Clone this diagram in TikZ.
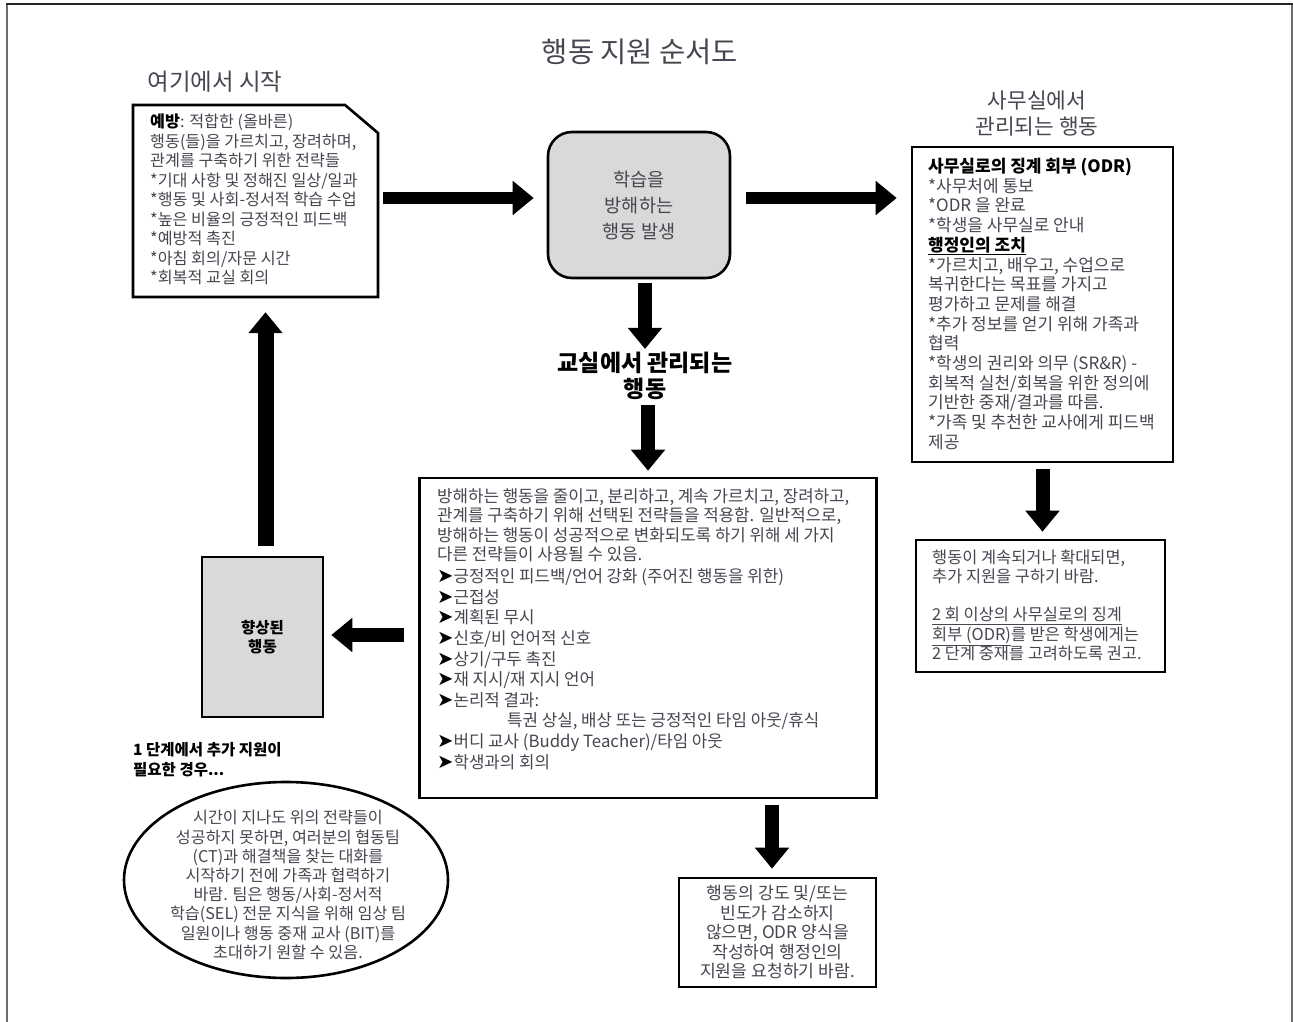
\documentclass[tikz,border=0pt]{standalone}
\usepackage{fontspec}
\setmainfont{Noto Sans CJK KR}
\newfontfamily\dejavu{DejaVu Sans}
\usetikzlibrary{arrows.meta,calc,shapes.geometric}
\definecolor{txtc}{HTML}{45464F}
\definecolor{boxfill}{HTML}{D9D9D9}
\definecolor{framec}{HTML}{6E6E6E}
\newcommand{\bularrow}{{\dejavu\fontsize{19.5}{17}\selectfont\color{black}\char"27A4}}
\begin{document}
\begin{tikzpicture}[x=1pt,y=-1pt,
  txt/.style={inner sep=0pt, align=left, text=txtc, font=\fontsize{16.8}{19.6}\selectfont},
  ctxt/.style={inner sep=0pt, align=center, text=txtc, font=\fontsize{16}{19.4}\selectfont},
  boxline/.style={draw=black, line width=2.6pt},
  bigarrow/.style={line width=14pt, -{Triangle[length=21pt,width=33pt]}},
]
\useasboundingbox (0,0) rectangle (1293,1022);
\draw[framec, line width=1.5pt] (7,1022) -- (7,4);
\draw[framec, line width=1.5pt] (1292,1022) -- (1292,4);
\draw[black!85, line width=1.5pt] (6.25,4) -- (1292.75,4);

% titles
\node[font=\fontsize{28.5}{32}\selectfont, text=txtc] (title) at (640,52) {행동 지원 순서도};
\node[font=\fontsize{23.5}{27}\selectfont, text=txtc] (start) at (215,82) {여기에서 시작};
\node[ctxt, font=\fontsize{21.4}{26}\selectfont] (rtitle) at (1037,113) {사무실에서\\관리되는 행동};

% left prevention box (cut corner)
\draw[boxline, line join=miter] (133,105) -- (345,105) -- (378,133) -- (378,297) -- (133,297) -- cycle;
\node[minimum width=245pt, minimum height=192pt, inner sep=0pt] (lbox) at (255.5,201) {};
\node[txt, anchor=north west, font=\fontsize{16.2}{19.5}\selectfont] (ltext) at (150,113.8) {{\color{black}\bfseries 예방}: 적합한 (올바른)\\
행동(들)을 가르치고, 장려하며,\\
관계를 구축하기 위한 전략들\\
*기대 사항 및 정해진 일상/일과\\
*행동 및 사회-정서적 학습 수업\\
*높은 비율의 긍정적인 피드백\\
*예방적 촉진\\
*아침 회의/자문 시간\\
*회복적 교실 회의};

% center rounded box
\node[draw=black, line width=2.6pt, fill=boxfill, rounded corners=24pt, minimum width=182pt, minimum height=146pt, inner sep=0pt, align=center, text=txtc, font=\fontsize{18.6}{26}\selectfont] (cbox) at (639,205) {학습을\\방해하는\\행동 발생};

% right office box
\node[boxline, minimum width=261pt, minimum height=315pt, inner sep=0pt] (rbox) at (1042.5,304.5) {};
\node[txt, anchor=north west, font=\fontsize{17}{19.7}\selectfont] (rtext) at (928,158) {{\color{black}\bfseries 사무실로의 징계 회부 (ODR)}\\
*사무처에 통보\\
*ODR 을 완료\\
*학생을 사무실로 안내\\
{\color{black}\underline{\bfseries 행정인의 조치}}\\
*가르치고, 배우고, 수업으로\\
복귀한다는 목표를 가지고\\
평가하고 문제를 해결\\
*추가 정보를 얻기 위해 가족과\\
협력\\
*학생의 권리와 의무 (SR\&R) -\\
회복적 실천/회복을 위한 정의에\\
기반한 중재/결과를 따름.\\
*가족 및 추천한 교사에게 피드백\\
제공};

% right lower box
\node[boxline, minimum width=249pt, minimum height=132pt, inner sep=0pt] (rlow) at (1040.5,606) {};
\node[txt, anchor=north west, font=\fontsize{16.4}{19.3}\selectfont] (rlowt) at (932,549.5) {행동이 계속되거나 확대되면,\\
추가 지원을 구하기 바람.\\[19pt]
\underline{2 회 이상의 사무실로의 징계}\\
\underline{회부 (ODR)}를 받은 학생에게는\\
2 단계 중재를 고려하도록 권고.};

% classroom label
\node[inner sep=0pt, align=center, font=\bfseries\fontsize{23}{26}\selectfont] (cls) at (645,376) {교실에서 관리되는\\행동};

% big classroom box
\node[boxline, minimum width=457pt, minimum height=320pt, inner sep=0pt] (big) at (648,638) {};
\node[txt, anchor=north west, font=\fontsize{16.8}{19.3}\selectfont] (bigp) at (437,488.5) {방해하는 행동을 줄이고, 분리하고, 계속 가르치고, 장려하고,\\
관계를 구축하기 위해 선택된 전략들을 적용함. 일반적으로,\\
방해하는 행동이 성공적으로 변화되도록 하기 위해 세 가지\\
다른 전략들이 사용될 수 있음.};
\node[txt, anchor=north west, font=\fontsize{16.8}{20.6}\selectfont] (bigb) at (437,568.5) {\bularrow 긍정적인 피드백/언어 강화 (주어진 행동을 위한)\\
\bularrow 근접성\\
\bularrow 계획된 무시\\
\bularrow 신호/비 언어적 신호\\
\bularrow 상기/구두 촉진\\
\bularrow 재 지시/재 지시 언어\\
\bularrow 논리적 결과:\\
\hspace*{70pt}특권 상실, 배상 또는 긍정적인 타임 아웃/휴식\\
\bularrow 버디 교사 (Buddy Teacher)/타임 아웃\\
\bularrow 학생과의 회의};

% bottom box
\node[boxline, minimum width=197pt, minimum height=109pt, inner sep=0pt, align=center, text=txtc, font=\fontsize{17.2}{19.5}\selectfont] (bbox) at (777.5,932.5) {행동의 강도 및/또는\\빈도가 감소하지\\않으면, ODR 양식을\\작성하여 행정인의\\지원을 요청하기 바람.};

% improved behaviour box
\node[boxline, fill=boxfill, minimum width=121pt, minimum height=160pt, inner sep=0pt, align=center, font=\bfseries\fontsize{15.5}{19}\selectfont] (imp) at (262.5,637) {향상된\\행동};

% tier 1 label
\node[inner sep=0pt, anchor=north west, align=left, font=\bfseries\fontsize{15.5}{20}\selectfont] (need) at (133,742) {1 단계에서 추가 지원이\\필요한 경우...};

% ellipse
\node[draw=black, line width=2.6pt, ellipse, minimum width=324pt, minimum height=196pt, inner sep=0pt] (ell) at (286,880) {};
\node[ctxt, font=\fontsize{16.2}{19.2}\selectfont] (ellt) at (288,885) {시간이 지나도 위의 전략들이\\
성공하지 못하면, 여러분의 협동팀\\
(CT)과 해결책을 찾는 대화를\\
시작하기 전에 가족과 협력하기\\
바람. 팀은 행동/사회-정서적\\
학습(SEL) 전문 지식을 위해 임상 팀\\
일원이나 행동 중재 교사 (BIT)를\\
초대하기 원할 수 있음.};

% arrows
\draw[bigarrow, line width=12pt, shorten <=5pt, shorten >=13pt] ([yshift=3pt]lbox.east) -- ([yshift=3pt]lbox.east -| cbox.west);
\draw[bigarrow, line width=12pt, shorten <=15pt, shorten >=14pt] ([yshift=7pt]cbox.east) -- ([yshift=7pt]cbox.east -| rbox.west);
\draw[bigarrow, shorten <=4pt, shorten >=3pt] ([xshift=6pt]cbox.south) -- ([xshift=6pt]cbox.south |- cls.north);
\draw[bigarrow, shorten <=5pt, shorten >=6pt] ([xshift=3pt]cls.south) -- ([xshift=3pt]cls.south |- big.north);
\draw[bigarrow, shorten <=6pt, shorten >=8pt] ([xshift=124pt]big.south) -- ([xshift=124pt]big.south |- bbox.north);
\draw[bigarrow, shorten <=6pt, shorten >=7pt] (rbox.south) -- (rbox.south |- rlow.north);
\draw[bigarrow, shorten <=14pt, shorten >=7pt] ([yshift=3pt]big.west) -- ([yshift=3pt]big.west -| imp.east);
\draw[bigarrow, line width=16pt, shorten <=10pt, shorten >=15pt] ([xshift=3pt]imp.north) -- ([xshift=3pt]imp.north |- lbox.south);
\end{tikzpicture}
\end{document}
